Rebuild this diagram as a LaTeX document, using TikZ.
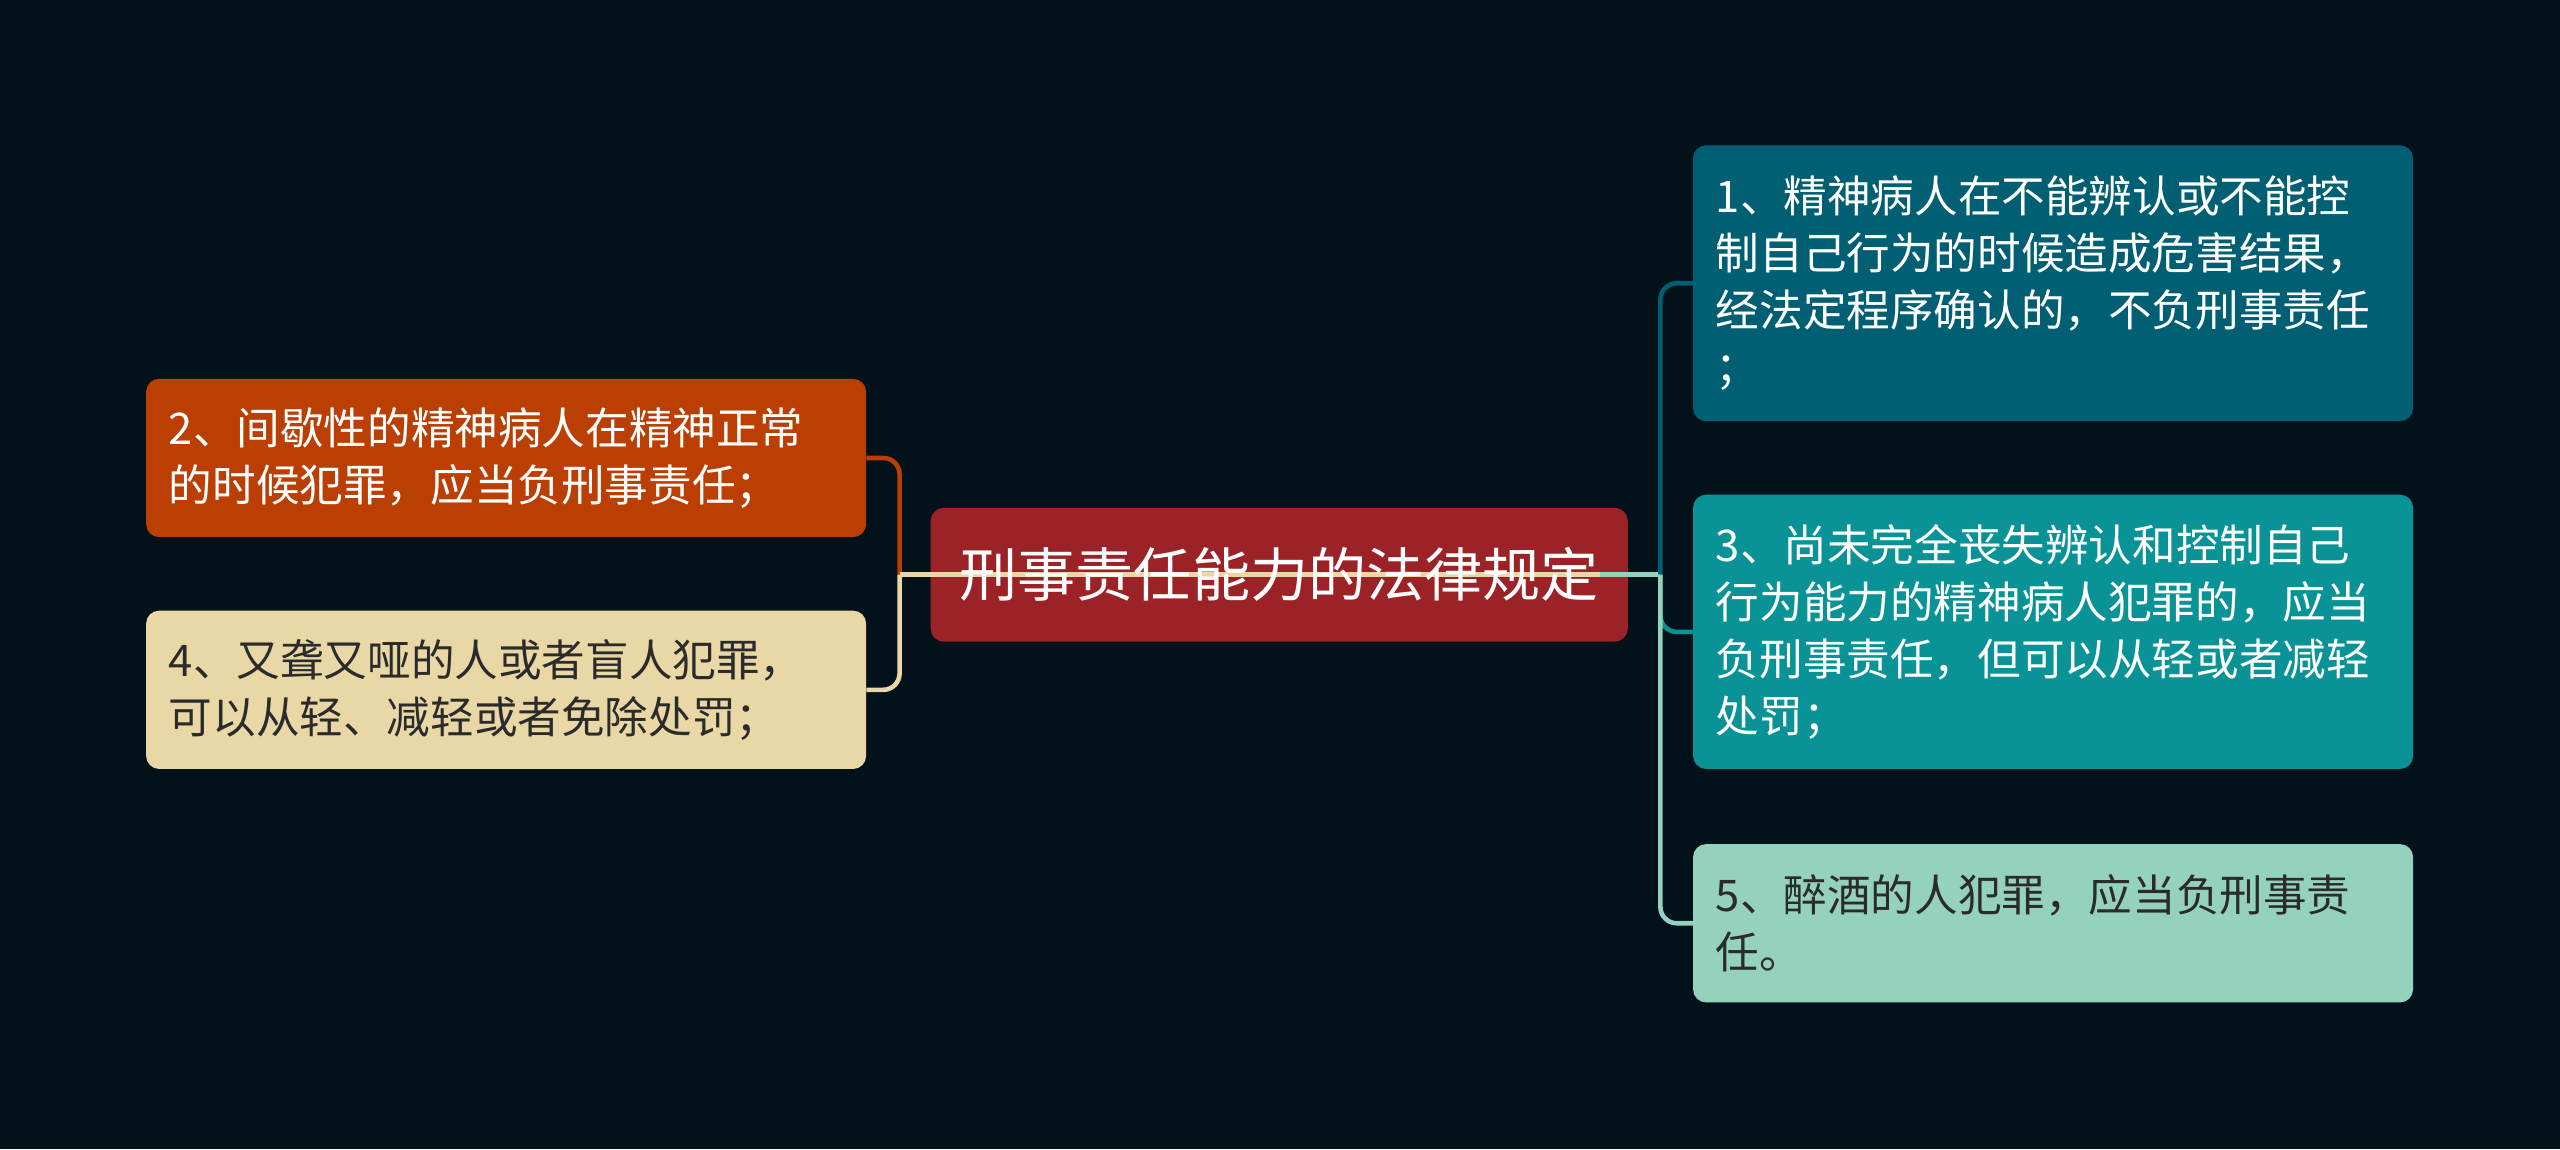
\documentclass[tikz,border=0pt]{standalone}
\usepackage{fontspec}
\setmainfont{Noto Sans CJK SC}
\definecolor{bg}{HTML}{02111A}
\definecolor{cred}{HTML}{9B2226}
\definecolor{corange}{HTML}{BB3E03}
\definecolor{cbeige}{HTML}{E9D8A6}
\definecolor{cdteal}{HTML}{005F73}
\definecolor{cteal}{HTML}{0A9396}
\definecolor{cmint}{HTML}{94D2BD}
\definecolor{darktext}{HTML}{2B2B2B}
\tikzset{
  leaf/.style={rounded corners=8pt, minimum width=441pt, text width=413pt,
    inner xsep=14pt, inner ysep=0pt, align=left,
    font=\fontsize{26.7}{35}\selectfont},
  link/.style={line width=2.8pt, rounded corners=10pt},
}
\begin{document}
\begin{tikzpicture}[x=1pt,y=-1pt]
\fill[bg] (0,0) rectangle (1568,704);
\useasboundingbox (0,0) rectangle (1568,704);

% central box (fill only)
\node[fill=cred, rounded corners=8pt, minimum width=427pt, minimum height=82pt, inner sep=0pt] (cbox) at (783.5,352) {};

% leaves
\node[leaf, fill=corange, text=white, minimum height=97pt] (n2) at (310,280.5)
  {2、间歇性的精神病人在精神正常\\的时候犯罪，应当负刑事责任；};
\node[leaf, fill=cbeige, text=darktext, minimum height=97pt] (n4) at (310,422.5)
  {4、又聋又哑的人或者盲人犯罪，\\可以从轻、减轻或者免除处罚；};
\node[leaf, fill=cdteal, text=white, minimum height=169pt] (n1) at (1257.5,173.5)
  {1、精神病人在不能辨认或不能控\\制自己行为的时候造成危害结果，\\经法定程序确认的，不负刑事责任\\；};
\node[leaf, fill=cteal, text=white, minimum height=168pt] (n3) at (1257.5,387)
  {3、尚未完全丧失辨认和控制自己\\行为能力的精神病人犯罪的，应当\\负刑事责任，但可以从轻或者减轻\\处罚；};
\node[leaf, fill=cmint, text=darktext, minimum height=97pt] (n5) at (1257.5,565.5)
  {5、醉酒的人犯罪，应当负刑事责\\任。};

% junctions
\coordinate (jl) at (551,352);
\coordinate (jr) at (1017,352);
\coordinate (jm) at (980,352);

% connectors
\draw[link, corange] (jl) |- (n2.east);
\draw[link, cbeige] (jl) |- (n4.east);
\draw[line width=2.8pt, cbeige] (jm) -- (jl);
\draw[line width=2.8pt, cmint] (jm) -- (jr);
\draw[link, cdteal] (jr) |- (n1.west);
\draw[link, cteal] (jr) |- (n3.west);
\draw[link, cmint] (jr) |- (n5.west);

% central text
\node[text=white, font=\fontsize{35.6}{40}\selectfont, inner sep=0pt] (ctext) at (cbox.center) {刑事责任能力的法律规定};
\end{tikzpicture}
\end{document}
